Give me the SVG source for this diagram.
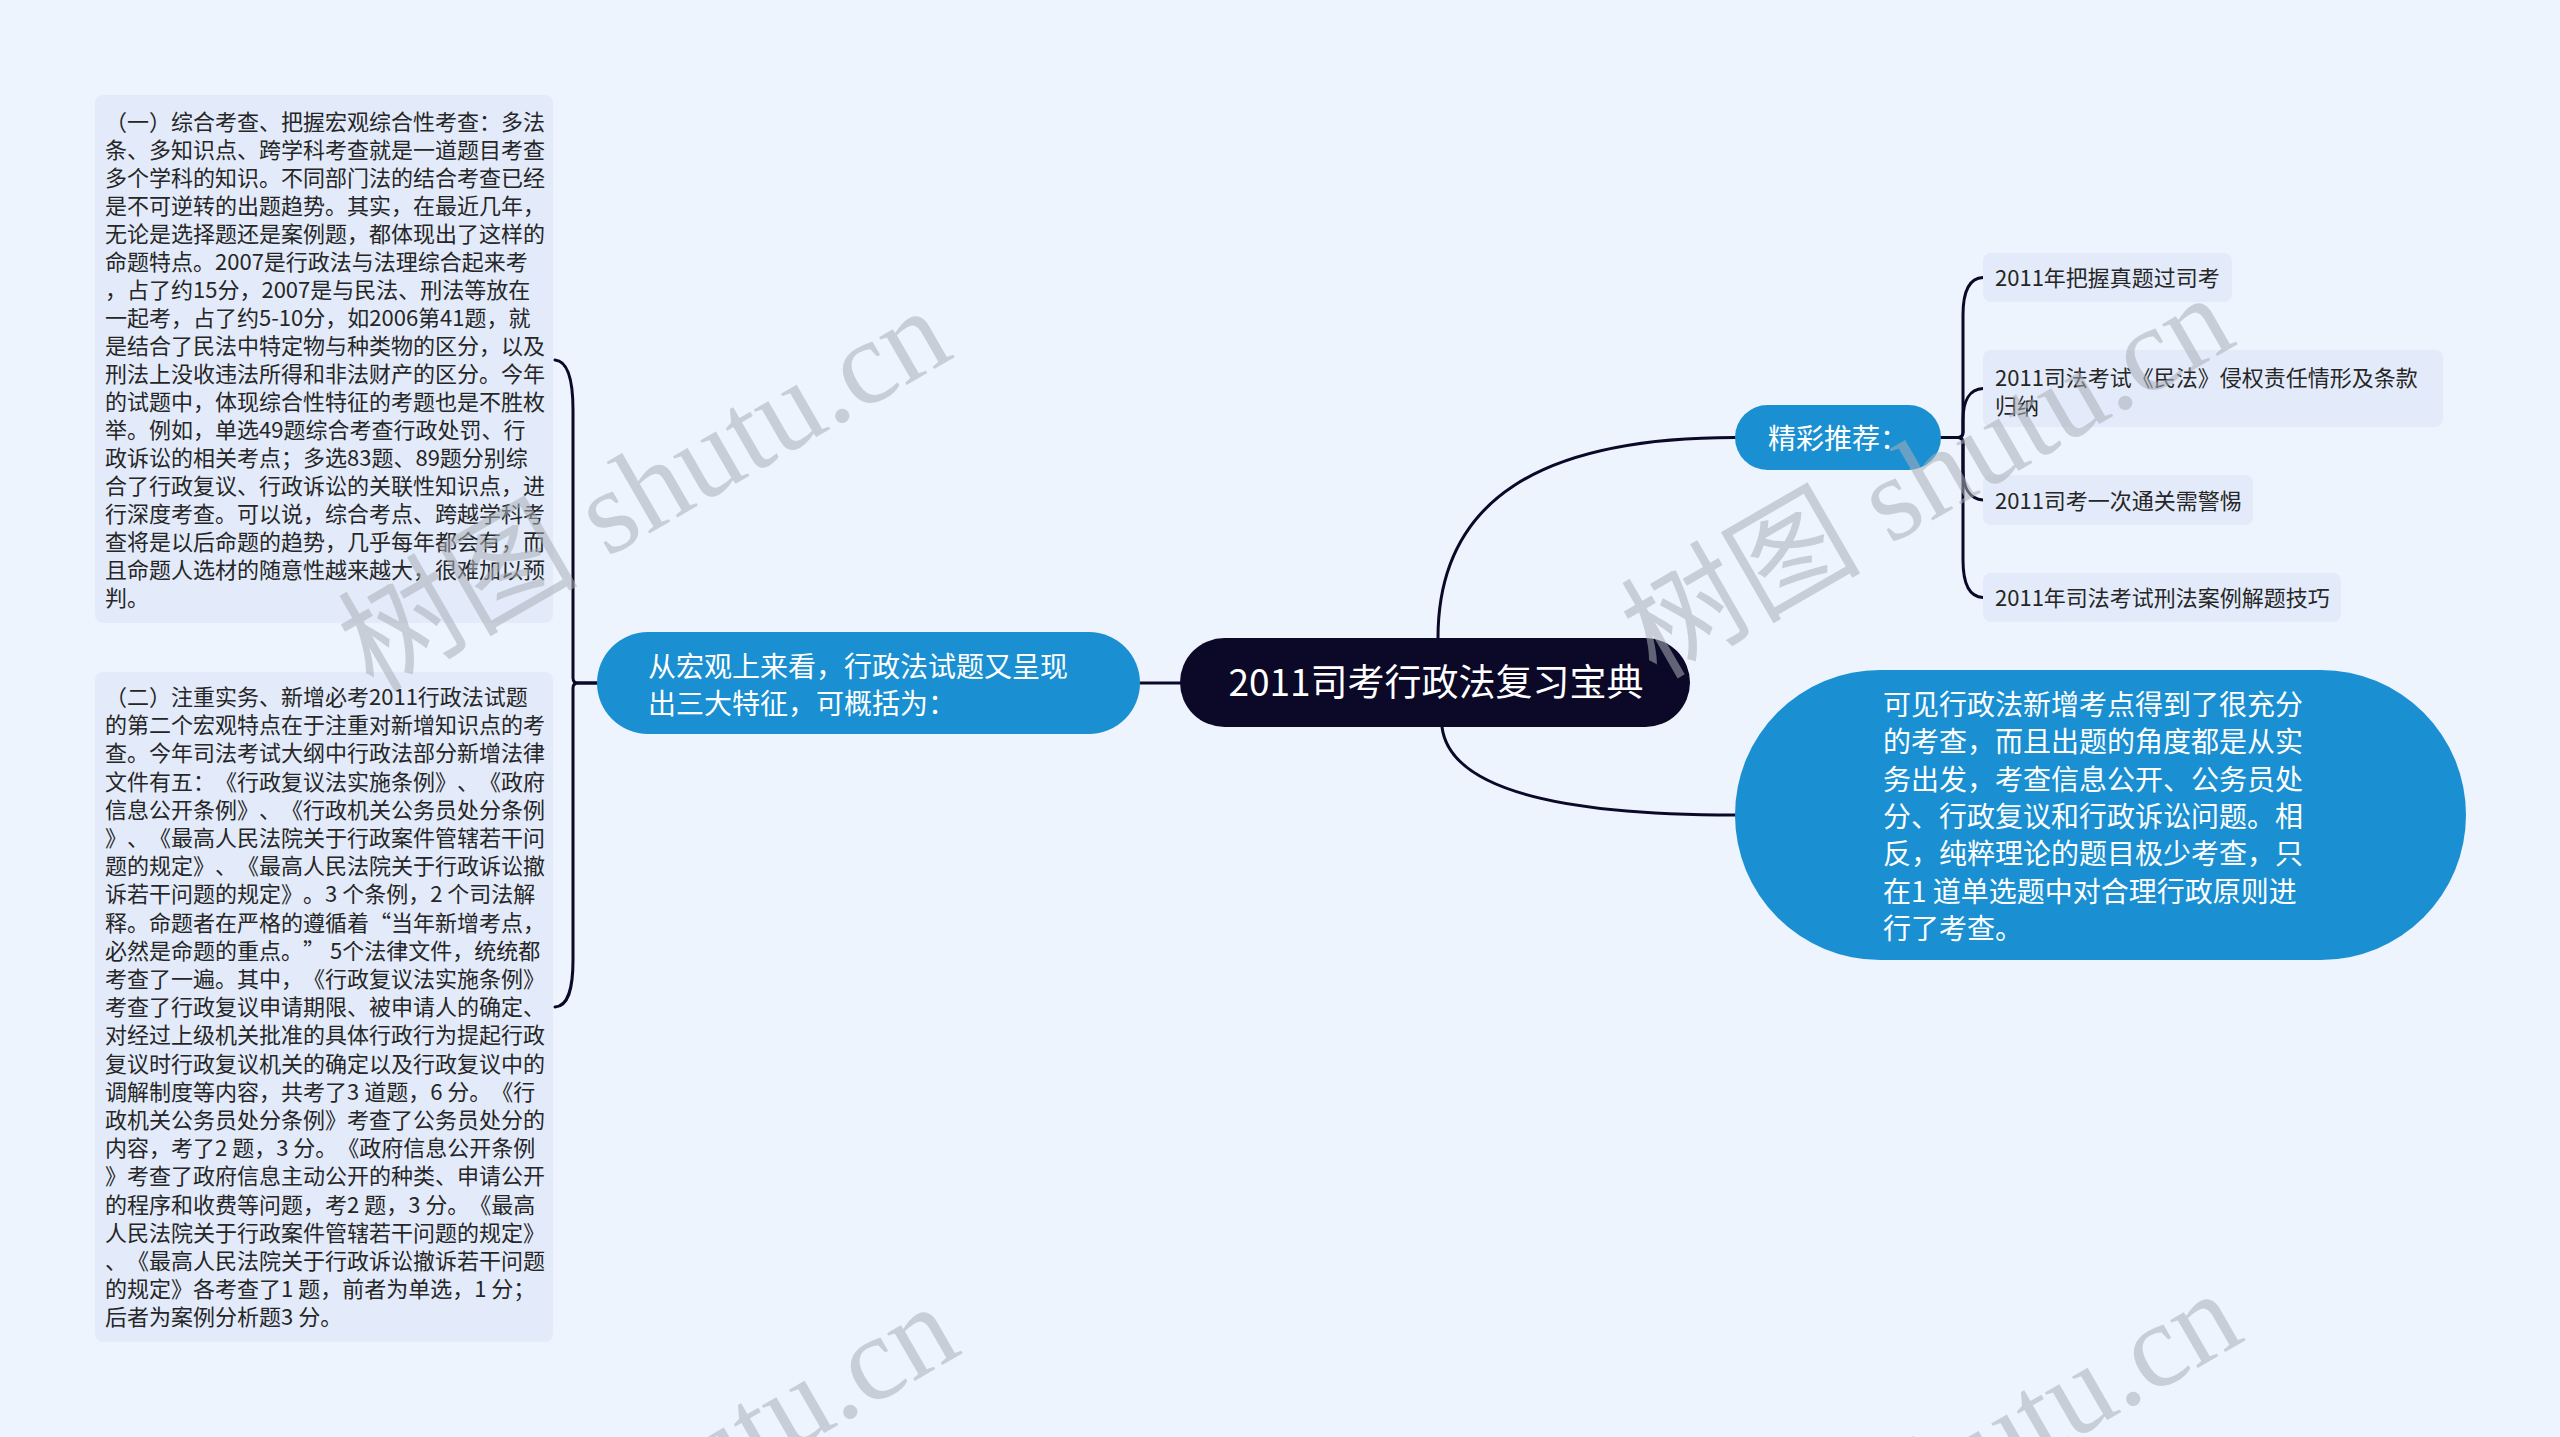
<svg xmlns="http://www.w3.org/2000/svg" width="2560" height="1437" viewBox="0 0 2560 1437">
<style>
.bg{fill:#eef4fd}
.box{fill:#e3ebfa}
.blue{fill:#1a90d2}
.navy{fill:#0b0828}
text{text-spacing-trim:space-all}
.t{font-family:'Noto Sans CJK SC','Microsoft YaHei',sans-serif;font-size:22px;fill:#262626}
.w{font-family:'Noto Sans CJK SC','Microsoft YaHei',sans-serif;font-size:28px;fill:#ffffff}
.title{font-family:'Noto Sans CJK SC','Microsoft YaHei',sans-serif;font-size:37px;fill:#ffffff}
.edge{fill:none;stroke:#0b0828;stroke-width:3;stroke-linecap:round}
.wm{font-family:'Liberation Serif','Noto Sans CJK SC',serif;font-size:120px;fill:#a9aeb8;fill-opacity:0.55}
</style>
<rect class="bg" x="0" y="0" width="2560" height="1437"/>

<g id="connectors">
  <path class="edge" d="M1140 683 H1180"/>
  <path class="edge" d="M1438 638 C1438 500, 1540 437.5, 1735 437.5"/>
  <path class="edge" d="M1442 727 C1450 790, 1560 815, 1735 815"/>
  <path class="edge" d="M597 683 H578 Q573 683 573 678 V410 C573 380, 568 361, 555 360"/>
  <path class="edge" d="M597 683 H578 Q573 683 573 688 V960 C573 990, 568 1006, 555 1007"/>
  <path class="edge" d="M1941 437.5 H1958 Q1963 437.5 1963 432 V315 C1963 290, 1970 278, 1983 277.5"/>
  <path class="edge" d="M1941 437.5 H1958 Q1963 437.5 1963 432 V420 C1963 400, 1970 389, 1983 388.5"/>
  <path class="edge" d="M1941 437.5 H1958 Q1963 437.5 1963 443 V470 C1963 488, 1970 499, 1983 500"/>
  <path class="edge" d="M1941 437.5 H1958 Q1963 437.5 1963 443 V560 C1963 585, 1970 597, 1983 597.5"/>
</g>

<g id="root">
  <rect class="navy" x="1180" y="638" width="510" height="89" rx="44.5"/>
  <text class="title" x="1436" y="696" text-anchor="middle">2011司考行政法复习宝典</text>
</g>

<g id="macro">
  <rect class="blue" x="597" y="632" width="543" height="102" rx="51"/>
  <text class="w"><tspan x="648" y="677">从宏观上来看，行政法试题又呈现</tspan><tspan x="648" y="714">出三大特征，可概括为：</tspan></text>
</g>

<g id="feature1">
  <rect class="box" x="95" y="95" width="458" height="528" rx="8"/>
  <text class="t">
    <tspan x="105" y="130">（一）综合考查、把握宏观综合性考查：多法</tspan>
    <tspan x="105" y="158">条、多知识点、跨学科考查就是一道题目考查</tspan>
    <tspan x="105" y="186">多个学科的知识。不同部门法的结合考查已经</tspan>
    <tspan x="105" y="214">是不可逆转的出题趋势。其实，在最近几年，</tspan>
    <tspan x="105" y="242">无论是选择题还是案例题，都体现出了这样的</tspan>
    <tspan x="105" y="270">命题特点。2007是行政法与法理综合起来考</tspan>
    <tspan x="105" y="298">，占了约15分，2007是与民法、刑法等放在</tspan>
    <tspan x="105" y="326">一起考，占了约5-10分，如2006第41题，就</tspan>
    <tspan x="105" y="354">是结合了民法中特定物与种类物的区分，以及</tspan>
    <tspan x="105" y="382">刑法上没收违法所得和非法财产的区分。今年</tspan>
    <tspan x="105" y="410">的试题中，体现综合性特征的考题也是不胜枚</tspan>
    <tspan x="105" y="438">举。例如，单选49题综合考查行政处罚、行</tspan>
    <tspan x="105" y="466">政诉讼的相关考点；多选83题、89题分别综</tspan>
    <tspan x="105" y="494">合了行政复议、行政诉讼的关联性知识点，进</tspan>
    <tspan x="105" y="522">行深度考查。可以说，综合考点、跨越学科考</tspan>
    <tspan x="105" y="550">查将是以后命题的趋势，几乎每年都会有，而</tspan>
    <tspan x="105" y="578">且命题人选材的随意性越来越大，很难加以预</tspan>
    <tspan x="105" y="606">判。</tspan>
  </text>
</g>

<g id="feature2">
  <rect class="box" x="95" y="672" width="458" height="670" rx="8"/>
  <text class="t">
    <tspan x="105" y="705">（二）注重实务、新增必考2011行政法试题</tspan>
    <tspan x="105" y="733.2">的第二个宏观特点在于注重对新增知识点的考</tspan>
    <tspan x="105" y="761.4">查。今年司法考试大纲中行政法部分新增法律</tspan>
    <tspan x="105" y="789.6">文件有五：《行政复议法实施条例》、《政府</tspan>
    <tspan x="105" y="817.8">信息公开条例》、《行政机关公务员处分条例</tspan>
    <tspan x="105" y="846">》、《最高人民法院关于行政案件管辖若干问</tspan>
    <tspan x="105" y="874.2">题的规定》、《最高人民法院关于行政诉讼撤</tspan>
    <tspan x="105" y="902.4">诉若干问题的规定》。3 个条例，2 个司法解</tspan>
    <tspan x="105" y="930.6">释。命题者在严格的遵循着“当年新增考点，</tspan>
    <tspan x="105" y="958.8">必然是命题的重点。” 5个法律文件，统统都</tspan>
    <tspan x="105" y="987">考查了一遍。其中，《行政复议法实施条例》</tspan>
    <tspan x="105" y="1015.2">考查了行政复议申请期限、被申请人的确定、</tspan>
    <tspan x="105" y="1043.4">对经过上级机关批准的具体行政行为提起行政</tspan>
    <tspan x="105" y="1071.6">复议时行政复议机关的确定以及行政复议中的</tspan>
    <tspan x="105" y="1099.8">调解制度等内容，共考了3 道题，6 分。《行</tspan>
    <tspan x="105" y="1128">政机关公务员处分条例》考查了公务员处分的</tspan>
    <tspan x="105" y="1156.2">内容，考了2 题，3 分。《政府信息公开条例</tspan>
    <tspan x="105" y="1184.4">》考查了政府信息主动公开的种类、申请公开</tspan>
    <tspan x="105" y="1212.6">的程序和收费等问题，考2 题，3 分。《最高</tspan>
    <tspan x="105" y="1240.8">人民法院关于行政案件管辖若干问题的规定》</tspan>
    <tspan x="105" y="1269">、《最高人民法院关于行政诉讼撤诉若干问题</tspan>
    <tspan x="105" y="1297.2">的规定》各考查了1 题，前者为单选，1 分；</tspan>
    <tspan x="105" y="1325.4">后者为案例分析题3 分。</tspan>
  </text>
</g>

<g id="recommend">
  <rect class="blue" x="1735" y="405" width="206" height="65" rx="32.5"/>
  <text class="w" x="1768" y="449">精彩推荐：</text>
</g>

<g id="leaf1">
  <rect class="box" x="1983" y="253" width="249" height="49" rx="8"/>
  <text class="t" x="1995" y="286">2011年把握真题过司考</text>
</g>
<g id="leaf2">
  <rect class="box" x="1983" y="350" width="460" height="77" rx="8"/>
  <text class="t"><tspan x="1995" y="385.5">2011司法考试《民法》侵权责任情形及条款</tspan><tspan x="1995" y="413.5">归纳</tspan></text>
</g>
<g id="leaf3">
  <rect class="box" x="1983" y="475" width="270" height="50" rx="8"/>
  <text class="t" x="1995" y="508.5">2011司考一次通关需警惕</text>
</g>
<g id="leaf4">
  <rect class="box" x="1983" y="573" width="358" height="49" rx="8"/>
  <text class="t" x="1995" y="606">2011年司法考试刑法案例解题技巧</text>
</g>

<g id="conclusion">
  <rect class="blue" x="1735" y="670" width="731" height="290" rx="145"/>
  <text class="w">
    <tspan x="1883" y="715">可见行政法新增考点得到了很充分</tspan>
    <tspan x="1883" y="752.3">的考查，而且出题的角度都是从实</tspan>
    <tspan x="1883" y="789.6">务出发，考查信息公开、公务员处</tspan>
    <tspan x="1883" y="826.9">分、行政复议和行政诉讼问题。相</tspan>
    <tspan x="1883" y="864.2">反，纯粹理论的题目极少考查，只</tspan>
    <tspan x="1883" y="901.5">在1 道单选题中对合理行政原则进</tspan>
    <tspan x="1883" y="938.8">行了考查。</tspan>
  </text>
</g>

<g id="watermarks">
  <text class="wm" transform="translate(373 693) rotate(-30)">树图 shutu.cn</text>
  <text class="wm" transform="translate(1656 680) rotate(-30)">树图 shutu.cn</text>
  <text class="wm" transform="translate(381 1689) rotate(-30)">树图 shutu.cn</text>
  <text class="wm" transform="translate(1664 1676) rotate(-30)">树图 shutu.cn</text>
</g>
</svg>
